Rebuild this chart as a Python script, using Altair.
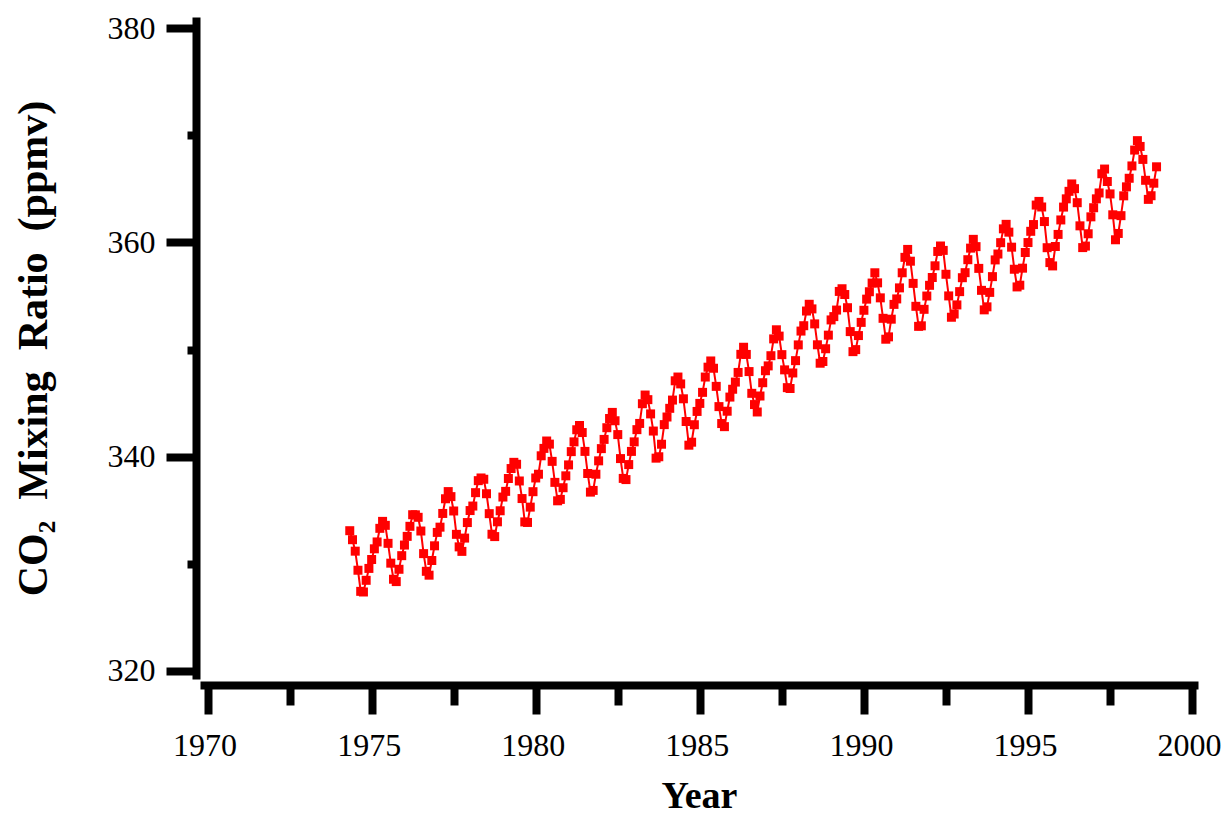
import altair as alt
import pandas as pd

# Monthly CO2 mixing ratio (ppmv), Mauna Loa style record, May 1974 - Dec 1998
start_month_1974 = 5
co2_1974 = [333.09, 332.25, 331.18, 329.40, 327.43, 327.37, 328.46, 329.57]
co2_1975 = [330.40, 331.40, 332.04, 333.31, 333.96, 333.59, 331.91, 330.06, 328.56, 328.34, 329.49, 330.76]
co2_1976 = [331.75, 332.56, 333.50, 334.58, 334.57, 334.34, 333.06, 330.95, 329.30, 328.94, 330.31, 331.68]
co2_1977 = [332.93, 333.42, 334.70, 336.07, 336.74, 336.27, 334.93, 332.75, 331.58, 331.16, 332.40, 333.85]
co2_1978 = [334.97, 335.39, 336.64, 337.76, 338.01, 337.89, 336.54, 334.68, 332.76, 332.54, 333.92, 334.95]
co2_1979 = [336.23, 336.76, 337.96, 338.89, 339.47, 339.29, 337.73, 336.09, 333.91, 333.86, 335.29, 336.73]
co2_1980 = [338.01, 338.36, 340.08, 340.77, 341.46, 341.17, 339.56, 337.60, 335.88, 336.01, 337.10, 338.21]
co2_1981 = [339.23, 340.47, 341.38, 342.51, 342.91, 342.25, 340.49, 338.43, 336.69, 336.85, 338.36, 339.61]
co2_1982 = [340.75, 341.61, 342.70, 343.56, 344.13, 343.35, 342.06, 339.82, 337.97, 337.86, 339.26, 340.49]
co2_1983 = [341.38, 342.52, 343.10, 344.94, 345.75, 345.32, 343.99, 342.39, 339.86, 339.99, 341.16, 342.99]
co2_1984 = [343.70, 344.51, 345.28, 347.08, 347.43, 346.79, 345.40, 343.28, 341.07, 341.35, 342.98, 344.22]
co2_1985 = [344.97, 346.00, 347.43, 348.35, 348.93, 348.25, 346.56, 344.67, 343.09, 342.80, 344.24, 345.56]
co2_1986 = [346.29, 346.96, 347.86, 349.55, 350.21, 349.54, 347.94, 345.91, 344.86, 344.17, 345.66, 346.90]
co2_1987 = [348.02, 348.47, 349.42, 350.99, 351.84, 351.25, 349.52, 348.10, 346.44, 346.36, 347.81, 348.96]
co2_1988 = [350.43, 351.72, 352.22, 353.59, 354.22, 353.79, 352.39, 350.44, 348.72, 348.88, 350.07, 351.34]
co2_1989 = [352.76, 353.07, 353.68, 355.42, 355.67, 355.13, 353.90, 351.67, 349.80, 349.99, 351.30, 352.53]
co2_1990 = [353.66, 354.70, 355.39, 356.20, 357.16, 356.22, 354.82, 352.91, 350.96, 351.18, 352.83, 354.21]
co2_1991 = [354.72, 355.75, 357.16, 358.60, 359.34, 358.24, 356.17, 354.03, 352.16, 352.21, 353.75, 354.99]
co2_1992 = [355.99, 356.72, 357.81, 359.15, 359.66, 359.25, 357.02, 355.00, 353.01, 353.31, 354.16, 355.40]
co2_1993 = [356.70, 357.17, 358.38, 359.46, 360.28, 359.60, 357.57, 355.52, 353.70, 353.98, 355.33, 356.80]
co2_1994 = [358.36, 358.91, 359.97, 361.26, 361.68, 360.95, 359.55, 357.49, 355.84, 356.00, 357.59, 359.05]
co2_1995 = [359.98, 361.03, 361.66, 363.48, 363.82, 363.30, 361.94, 359.50, 358.11, 357.80, 359.61, 360.74]
co2_1996 = [362.09, 363.29, 364.06, 364.76, 365.45, 365.01, 363.70, 361.54, 359.51, 359.65, 360.80, 362.38]
co2_1997 = [363.23, 364.06, 364.61, 366.40, 366.84, 365.68, 364.52, 362.57, 360.24, 360.83, 362.49, 364.34]
co2_1998 = [365.18, 365.98, 367.13, 368.61, 369.49, 368.95, 367.74, 365.79, 364.01, 364.35, 365.52, 367.05]

years = list(range(1974, 1999))
series = [co2_1974, co2_1975, co2_1976, co2_1977, co2_1978, co2_1979, co2_1980,
          co2_1981, co2_1982, co2_1983, co2_1984, co2_1985, co2_1986, co2_1987,
          co2_1988, co2_1989, co2_1990, co2_1991, co2_1992, co2_1993, co2_1994,
          co2_1995, co2_1996, co2_1997, co2_1998]

x_major_ticks = [1970, 1975, 1980, 1985, 1990, 1995, 2000]
x_minor_ticks = [1972.5, 1977.5, 1982.5, 1987.5, 1992.5, 1997.5]
y_major_ticks = [320, 340, 360, 380]
y_minor_ticks = [330, 350, 370]

rows = []
for yr, vals in zip(years, series):
    first = start_month_1974 if yr == 1974 else 1
    for i, v in enumerate(vals):
        m = first + i
        rows.append({"t": yr + (m - 1) / 12.0, "co2": v})
df = pd.DataFrame(rows)

FONT = "Liberation Serif"
xs = alt.Scale(domain=[1969.77, 2000.18], nice=False, zero=False)
ys = alt.Scale(domain=[319.25, 381.03], nice=False, zero=False)

x_axis = alt.Axis(
    values=x_major_ticks, format="d", orient="bottom", offset=6,
    domainColor="black", domainWidth=8, tickColor="black", tickWidth=8, tickSize=29,
    labelFont=FONT, labelFontSize=32, labelColor="black", labelPadding=16,
    labelOffset=-3,
    title="Year", titleFont=FONT, titleFontSize=38, titleFontWeight="bold",
    titleColor="black", titleBaseline="alphabetic", titleY=122, grid=False,
)
y_axis = alt.Axis(
    values=y_major_ticks, format="d", orient="left", offset=4,
    domainColor="black", domainWidth=8, tickColor="black", tickWidth=8, tickSize=30,
    labelFont=FONT, labelFontSize=32, labelColor="black", labelPadding=11,
    title="CO\u2082\u00a0\u00a0Mixing\u00a0\u00a0Ratio\u00a0\u00a0(ppmv)",
    titleFont=FONT, titleFontSize=42, titleFontWeight="bold", titleColor="black",
    titleBaseline="alphabetic", titleX=-150, titleAngle=270, grid=False,
)
x_axis_minor = alt.Axis(
    values=x_minor_ticks, orient="bottom", offset=6, domain=False, labels=False,
    tickColor="black", tickWidth=8, tickSize=20, title=None, grid=False,
)
y_axis_minor = alt.Axis(
    values=y_minor_ticks, orient="left", offset=4, domain=False, labels=False,
    tickColor="black", tickWidth=8, tickSize=9, title=None, grid=False,
)

base = alt.Chart(df)
line = base.mark_line(color="#ff0000", strokeWidth=2).encode(
    x=alt.X("t:Q", scale=xs, axis=x_axis),
    y=alt.Y("co2:Q", scale=ys, axis=y_axis),
)
pts = base.mark_point(shape="square", filled=True, size=81, color="#ff0000", opacity=1).encode(
    x=alt.X("t:Q", scale=xs, axis=x_axis_minor),
    y=alt.Y("co2:Q", scale=ys, axis=y_axis_minor),
)

chart = (
    alt.layer(line, pts)
    .resolve_axis(x="independent", y="independent")
    .properties(
        width=998, height=662,
        autosize=alt.AutoSizeParams(type="none"),
        padding={"left": 192, "top": 9, "right": 24, "bottom": 137},
        background="white",
    )
    .configure_view(stroke=None)
)

chart.save("out.html", embed_options={"renderer": "svg", "actions": False})
